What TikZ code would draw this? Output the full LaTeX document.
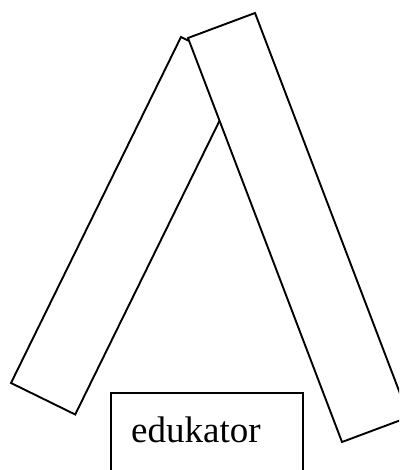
\documentclass[tikz,border=0pt]{standalone}
\usepackage{fontspec}
\setmainfont{Liberation Serif}
\begin{document}
\begin{tikzpicture}[x=1pt,y=1pt,
  slab/.style={draw=black,fill=white,line width=1.9pt,line join=miter},
  label/.style={font=\fontsize{37}{40}\selectfont,inner sep=0pt,anchor=base west}]
\useasboundingbox (0,0) rectangle (399,-470);
\clip (0,0) rectangle (399,-470);
% left slab
\coordinate (l1) at (181,-37);
\coordinate (l2) at (11,-383);
\coordinate (l3) at (75.2,-414.5);
\coordinate (l4) at (245.2,-68.5);
\draw[slab] (l1) -- (l2) -- (l3) -- (l4) -- cycle;
% right slab
\coordinate (r1) at (188,-38);
\coordinate (r2) at (342,-442);
\coordinate (r3) at (409,-417);
\coordinate (r4) at (255,-13);
\draw[slab] (r1) -- (r2) -- (r3) -- (r4) -- cycle;
% edukator box
\coordinate (b1) at (111,-393);
\coordinate (b2) at (303,-500);
\draw[slab] (b1) rectangle (b2);
\node[label] (edu) at (131,-442) {edukator};
\end{tikzpicture}
\end{document}
